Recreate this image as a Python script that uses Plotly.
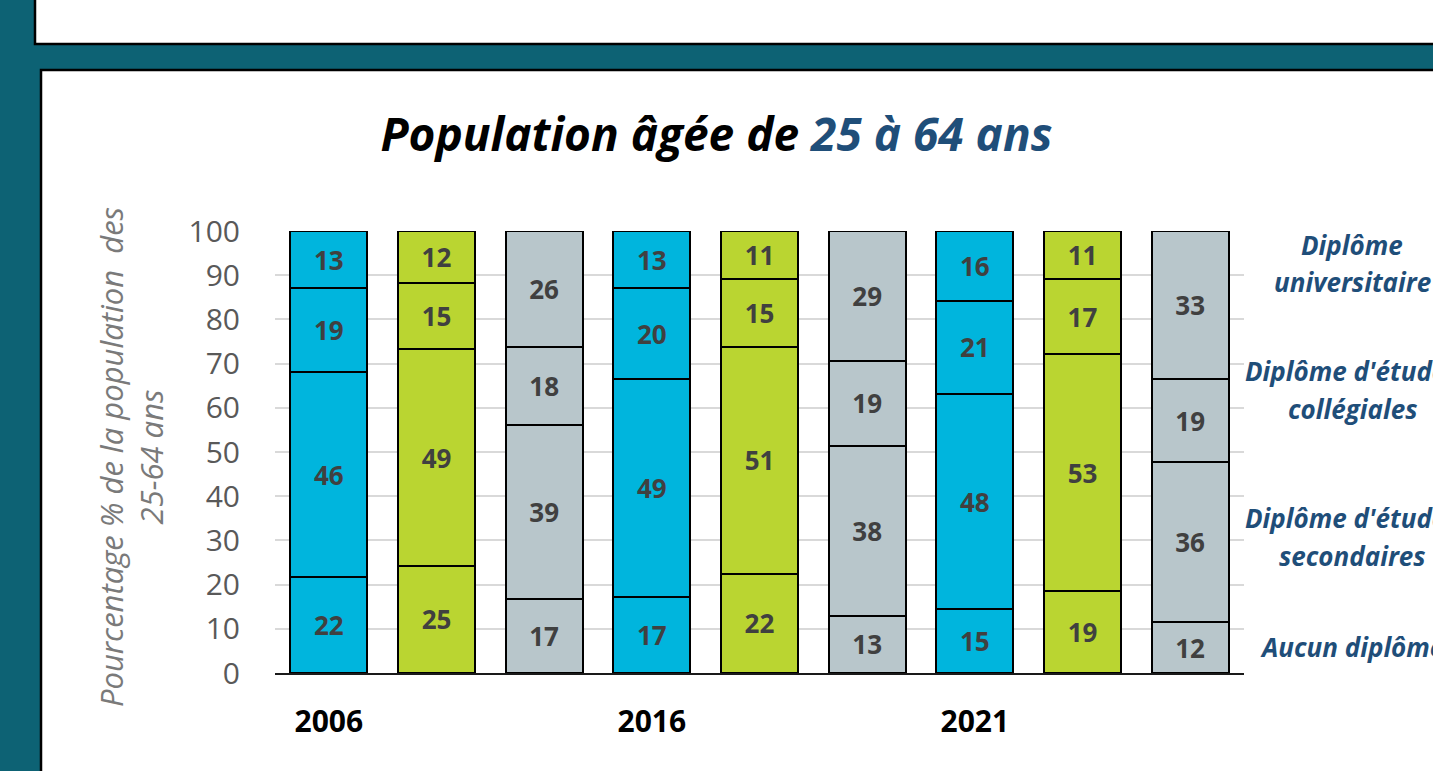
import plotly.graph_objects as go

# ---- data ----
bar_positions = [0, 1, 2, 3, 4, 5, 6, 7, 8]
year_ticks = [0, 3, 6]
year_labels = ["2006", "2016", "2021"]

series_names = ["Aucun diplôme", "Diplôme d'études secondaires",
                "Diplôme d'études collégiales", "Diplôme universitaire"]

# segment heights (%)
aucun = [21.7, 24.3, 16.8, 17.1, 22.4, 13.0, 14.5, 18.6, 11.5]
secondaires = [46.3, 48.9, 39.3, 49.5, 51.4, 38.4, 48.6, 53.5, 36.2]
collegiales = [19.1, 15.1, 17.7, 20.4, 15.3, 19.2, 21.1, 17.0, 18.8]
universitaire = [12.9, 11.7, 26.2, 13.0, 10.9, 29.4, 15.8, 10.9, 33.5]

# labels printed on the segments
aucun_lbl = [22, 25, 17, 17, 22, 13, 15, 19, 12]
secondaires_lbl = [46, 49, 39, 49, 51, 38, 48, 53, 36]
collegiales_lbl = [19, 15, 18, 20, 15, 19, 21, 17, 19]
universitaire_lbl = [13, 12, 26, 13, 11, 29, 16, 11, 33]

y_ticks = [0, 10, 20, 30, 40, 50, 60, 70, 80, 90, 100]

BLUE = "#00b5dd"
GREEN = "#bad531"
GRAY = "#b8c6cb"
bar_colors = [BLUE, GREEN, GRAY] * 3

W, H = 1433, 771
L, R, T, B = 275, 189, 231, 98
PW, PH = W - L - R, H - T - B


def px_x(p):
    return (p - L) / PW


def px_y(p):
    return (H - B - p) / PH


FONT = "Open Sans"

fig = go.Figure()
vals = [aucun, secondaires, collegiales, universitaire]
lbls = [aucun_lbl, secondaires_lbl, collegiales_lbl, universitaire_lbl]
for name, v, lb in zip(series_names, vals, lbls):
    fig.add_trace(go.Bar(
        x=bar_positions, y=v, name=name,
        text=[str(t) for t in lb], textposition="inside",
        insidetextanchor="middle", textangle=0,
        textfont=dict(family=FONT, size=26, color="#404040", weight="bold"),
        marker=dict(color=bar_colors, line=dict(color="#000000", width=2)),
        showlegend=False, hoverinfo="skip",
    ))

shapes = [
    # top white box
    dict(type="rect", xref="paper", yref="paper",
         x0=px_x(35), x1=px_x(1445), y0=px_y(-10), y1=px_y(44),
         fillcolor="white", line=dict(color="black", width=2.5), layer="below"),
    # main white panel
    dict(type="rect", xref="paper", yref="paper",
         x0=px_x(41), x1=px_x(1445), y0=px_y(790), y1=px_y(70),
         fillcolor="white", line=dict(color="black", width=2.5), layer="below"),
]

ann = []
# y axis title
ann.append(dict(xref="paper", yref="paper", x=px_x(131), y=px_y(457),
                text="Pourcentage % de la population  des<br>25-64 ans",
                textangle=-90, showarrow=False, xanchor="center", yanchor="middle",
                font=dict(family=FONT, size=31, color="#7a7a7a", style="italic")))
# right side category labels
right_lines = [("Diplôme", 245), ("universitaire", 282),
               ("Diplôme d'études", 371), ("collégiales", 409),
               ("Diplôme d'études", 518), ("secondaires", 556),
               ("Aucun diplôme", 647)]
for txt, py in right_lines:
    ann.append(dict(xref="paper", yref="paper", x=px_x(1352), y=px_y(py),
                    text=txt, showarrow=False, xanchor="center", yanchor="middle",
                    font=dict(family=FONT, size=26, color="#1f4e79",
                              weight="bold", style="italic")))

fig.update_layout(
    width=W, height=H,
    margin=dict(l=L, r=R, t=T, b=B, pad=0),
    paper_bgcolor="#0d6274",
    plot_bgcolor="rgba(0,0,0,0)",
    barmode="stack", bargap=0.285,
    title=dict(text="Population âgée de <span style='color:#1f4e79'>25 à 64 ans</span>",
               x=0.5, xanchor="center", y=1 - 135 / H, yanchor="middle",
               font=dict(family=FONT, size=46, color="#000000",
                         weight="bold", style="italic")),
    xaxis=dict(range=[-0.5, 8.5], tickvals=year_ticks, ticktext=year_labels,
               tickfont=dict(family=FONT, size=30, color="#000000", weight="bold"),
               showgrid=False, zeroline=False, showline=True,
               linecolor="#1a1a1a", linewidth=2, ticks="",
               ticklabelstandoff=21),
    yaxis=dict(range=[0, 100], tickvals=y_ticks,
               tickfont=dict(family=FONT, size=30, color="#595959"),
               showgrid=True, gridcolor="#d9d9d9", gridwidth=1.5,
               zeroline=False, showline=False, ticks="",
               ticklabelstandoff=34),
    shapes=shapes,
    annotations=ann,
)

fig.write_html("out.html", config={"displayModeBar": False})

# remove the default page margin so the figure fills the window
with open("out.html", encoding="utf-8") as f:
    html = f.read()
html = html.replace("<body>", "<body style=\"margin:0;overflow:hidden\">", 1)
html = html.replace("<head>", "<head><style>html,body{margin:0;padding:0;}</style>", 1)
with open("out.html", "w", encoding="utf-8") as f:
    f.write(html)
